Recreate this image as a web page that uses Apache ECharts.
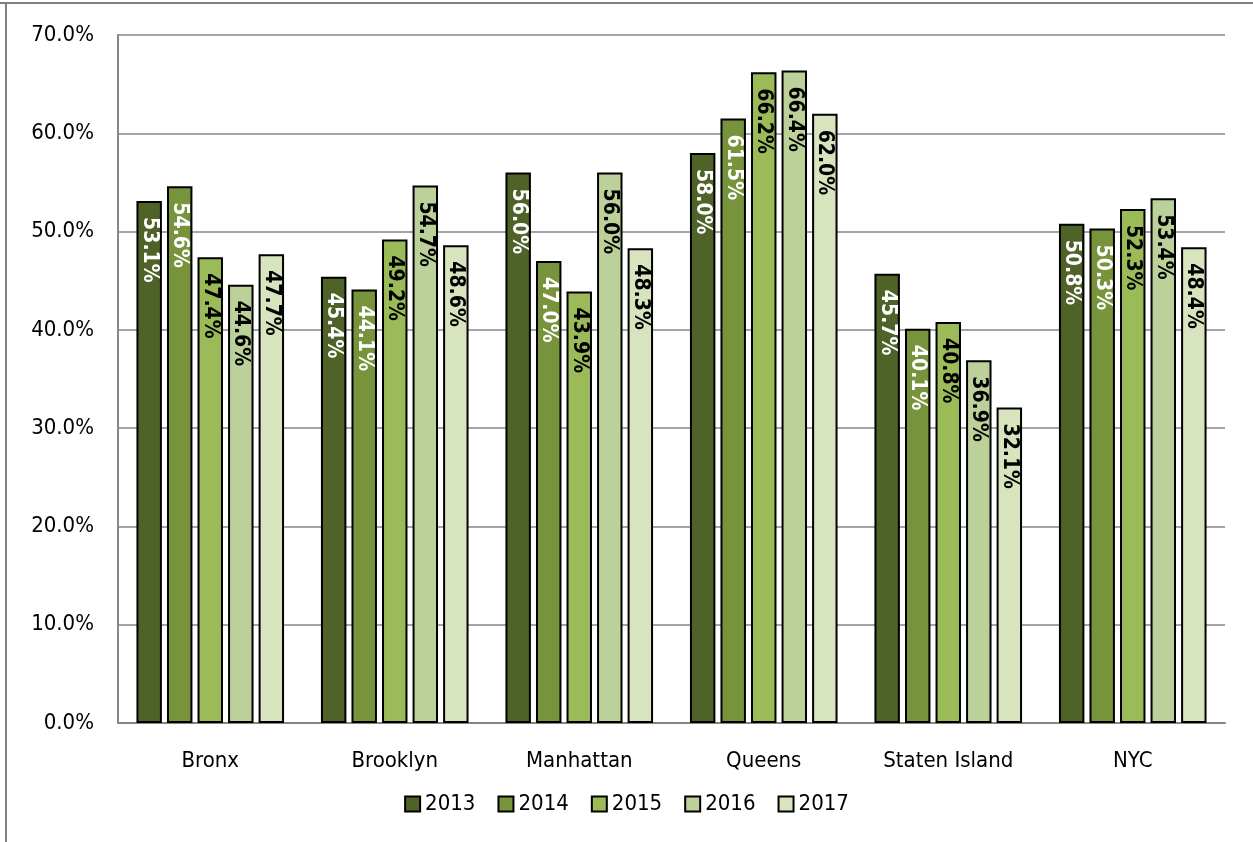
<!DOCTYPE html>
<html><head><meta charset="utf-8">
<script src="https://cdn.jsdelivr.net/npm/echarts@6/dist/echarts.min.js"></script>
<style>html,body{margin:0;padding:0;background:#fff}#c{width:1253px;height:842px}</style>
</head><body><div id="c"></div>
<script>
const categories = ['Bronx','Brooklyn','Manhattan','Queens','Staten Island','NYC'];
const years = ['2013','2014','2015','2016','2017'];
const v2013 = [53.1, 45.4, 56.0, 58.0, 45.7, 50.8];
const v2014 = [54.6, 44.1, 47.0, 61.5, 40.1, 50.3];
const v2015 = [47.4, 49.2, 43.9, 66.2, 40.8, 52.3];
const v2016 = [44.6, 54.7, 56.0, 66.4, 36.9, 53.4];
const v2017 = [47.7, 48.6, 48.3, 62.0, 32.1, 48.4];
const yTicks = [0,10,20,30,40,50,60,70];

const values = [v2013, v2014, v2015, v2016, v2017];
const colors = ['#4f6228','#77933c','#9bbb59','#bcd09a','#d7e4bd'];
const labelColors = ['#ffffff','#ffffff','#000000','#000000','#000000'];
const FONT = '"Liberation Sans Narrow","Arial Narrow","DejaVu Sans Condensed",sans-serif';

const chart = echarts.init(document.getElementById('c'));
chart.setOption({
  animation:false,
  backgroundColor:'#fff',
  graphic:[
    {type:'line',shape:{x1:0,y1:3,x2:1253,y2:3},style:{stroke:'#808080',lineWidth:2}},
    {type:'line',shape:{x1:6,y1:3,x2:6,y2:842},style:{stroke:'#808080',lineWidth:2}}
  ],
  grid:{left:118,right:28,top:35,bottom:119},
  legend:{
    bottom:22,left:'center',
    itemWidth:15,itemHeight:15,itemGap:22,
    icon:'rect',
    textStyle:{fontFamily:FONT,fontSize:22,color:'#000'},
    data:years
  },
  xAxis:{
    type:'category',data:categories,
    axisLine:{lineStyle:{color:'#868686',width:2}},
    axisTick:{show:false},
    axisLabel:{fontFamily:FONT,fontSize:22,color:'#000',margin:27}
  },
  yAxis:{
    type:'value',min:0,max:70,interval:10,
    axisLine:{show:true,lineStyle:{color:'#868686',width:2}},
    splitLine:{lineStyle:{color:'#868686',width:1.5}},
    axisLabel:{fontFamily:FONT,fontSize:22,color:'#000',margin:24,
      formatter:v=> yTicks.includes(v)? v.toFixed(1)+'%':''}
  },
  series: years.map((y,i)=>({
    name:y,type:'bar',data:values[i],
    barGap:'20%',barCategoryGap:'20%',
    itemStyle:{color:colors[i],borderColor:'#000',borderWidth:2},
    label:{show:true,position:'insideTop',rotate:-90,align:'left',verticalAlign:'middle',
      distance:16,fontFamily:FONT,fontSize:21,fontWeight:'bold',color:labelColors[i],
      formatter:p=>p.value.toFixed(1)+'%'}
  }))
});
</script></body></html>
